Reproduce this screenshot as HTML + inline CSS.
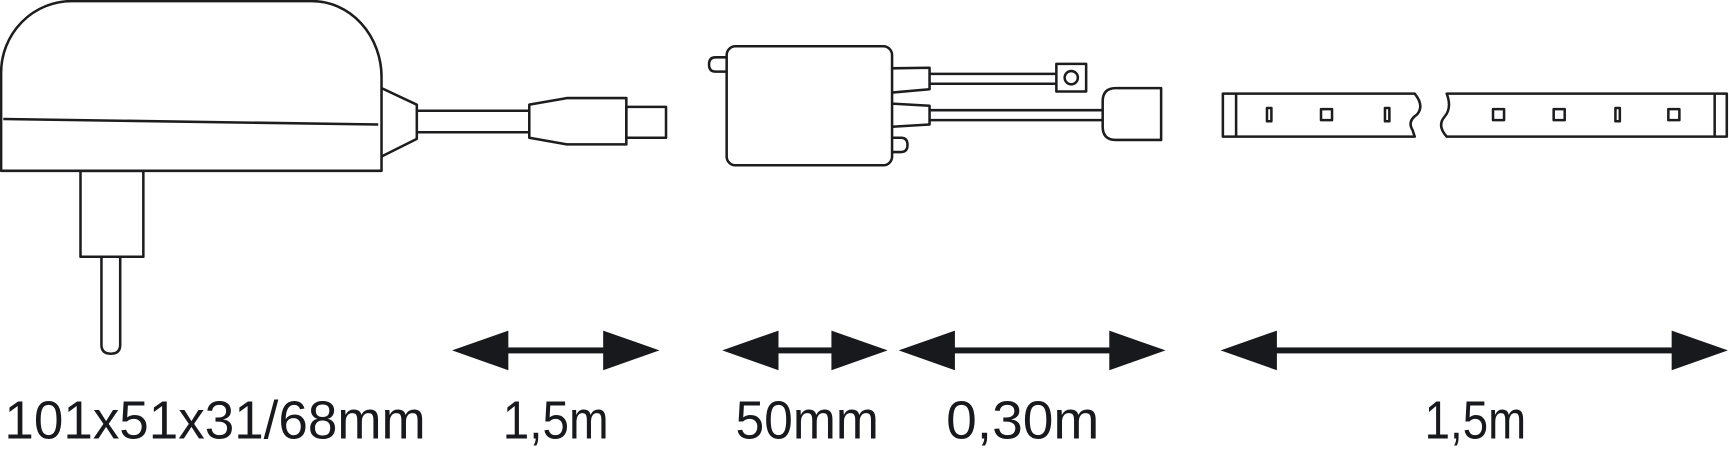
<!DOCTYPE html>
<html><head><meta charset="utf-8"><style>
html,body{margin:0;padding:0;background:#fff;overflow:hidden}
svg{display:block}
</style></head><body>
<svg width="1729" height="454" viewBox="0 0 1568 412" preserveAspectRatio="none" xmlns="http://www.w3.org/2000/svg">
<g fill="none" stroke="#1d1d1f" stroke-width="2.3" stroke-linejoin="round">
<!-- adapter body -->
<path d="M1,155 L1,66 A64,65 0 0 1 65,1 L283,1 A63,69 0 0 1 346,70 L346,155 Z" fill="#fff"/>
<path d="M3,108 L343,113"/>
<path d="M346,80 L378,95 L378,126 L346,142"/>
<path d="M378,100.5 L480,100.5 M378,120 L480,120"/>
<path d="M480,95 L514,89 L568,89 L568,131 L514,131 L480,125 Z"/>
<rect x="568" y="97" width="36" height="28"/>
<rect x="73" y="155" width="57" height="78"/>
<path d="M92,233 L92,313 Q92,321 100.5,321 Q109,321 109,313 L109,233"/>
<!-- controller -->
<rect x="659" y="42" width="150" height="108" rx="8"/>
<path d="M659,52 L649,52 Q643,52 643,58.5 Q643,65 649,65 L659,65"/>
<path d="M809,125 L817,125 Q823,125 823,131.5 Q823,138 817,138 L809,138"/>
<path d="M809,62 L843,61.5 L843,81 L809,84"/>
<path d="M843,67 L958,67 M843,76 L958,76"/>
<rect x="958" y="58" width="27" height="25"/>
<circle cx="971.5" cy="70.5" r="6"/>
<path d="M809,94 L843,96 L843,113 L809,115"/>
<path d="M843,100 L1000,100 M843,109 L1000,109"/>
<path d="M1053,80 L1012,80 Q1000,80 1000,92 L1000,115 Q1000,127 1012,127 L1053,127 Z"/>
<!-- strip -->
<path d="M1109,85 L1283,85 Q1292,96 1285,104 Q1276,110 1281,118 L1283,124 L1109,124 Z"/>
<path d="M1121,85 L1121,124"/>
<path d="M1312,85 L1566,85 L1566,124 L1312,124 Q1303,114 1310,106 Q1317,98 1312,85 Z"/>
<path d="M1555,85 L1555,124"/>
<rect x="1149" y="98" width="4" height="12"/>
<rect x="1198" y="99" width="10" height="10"/>
<rect x="1256" y="98" width="4" height="12"/>
<rect x="1354" y="99" width="10" height="10"/>
<rect x="1409" y="99" width="10" height="10"/>
<rect x="1465" y="98" width="4" height="12"/>
<rect x="1513" y="99" width="10" height="10"/>
</g>
<!-- arrows -->
<g fill="#18191c">
<rect x="450" y="315.3" width="108" height="5.4"/>
<path d="M410,318 L461,300 L461,336 Z M598,318 L547,300 L547,336 Z"/>
<rect x="690" y="315.3" width="80" height="5.4"/>
<path d="M655,318 L706,300 L706,336 Z M805,318 L754,300 L754,336 Z"/>
<rect x="850" y="315.3" width="170" height="5.4"/>
<path d="M815,318 L866,300 L866,336 Z M1057,318 L1006,300 L1006,336 Z"/>
<rect x="1150" y="315.3" width="380" height="5.4"/>
<path d="M1107,318 L1158,300 L1158,336 Z M1567,318 L1516,300 L1516,336 Z"/>
</g>
<g font-family="'Liberation Sans', 'DejaVu Sans', sans-serif" font-size="49" fill="#18191c">
<text x="4" y="398" textLength="382" lengthAdjust="spacingAndGlyphs">101x51x31/68mm</text>
<text x="456" y="398" textLength="96" lengthAdjust="spacingAndGlyphs">1,5m</text>
<text x="667" y="398" textLength="130" lengthAdjust="spacingAndGlyphs">50mm</text>
<text x="858" y="398" textLength="139" lengthAdjust="spacingAndGlyphs">0,30m</text>
<text x="1292" y="398" textLength="92" lengthAdjust="spacingAndGlyphs">1,5m</text>
</g>
</svg>
</body></html>
